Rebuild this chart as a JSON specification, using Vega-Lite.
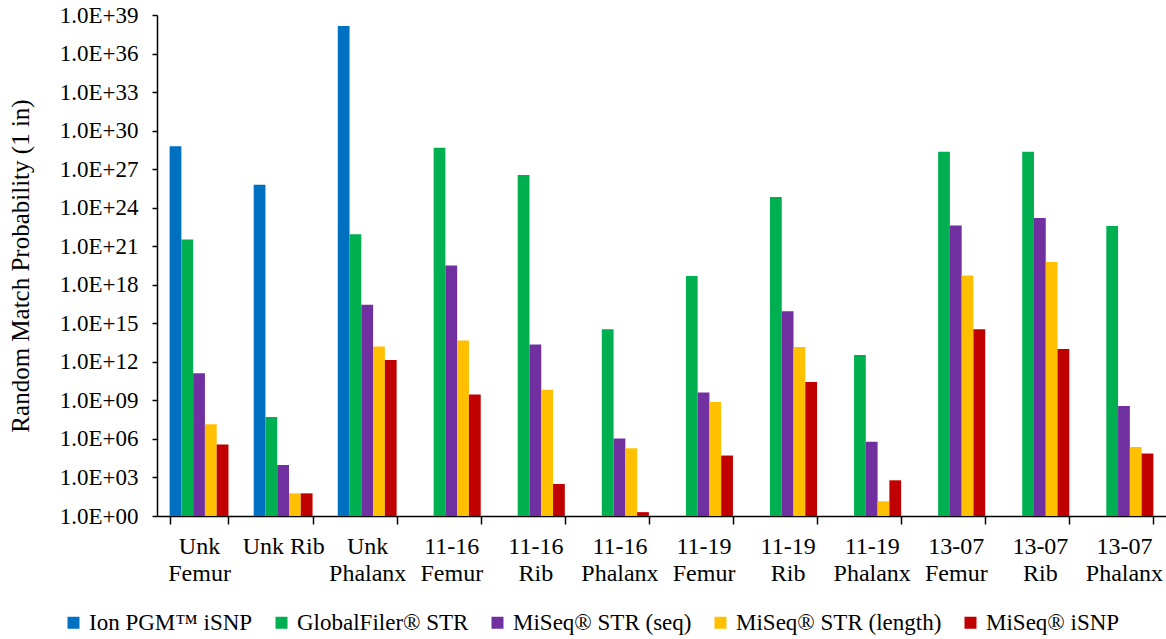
{
  "$schema": "https://vega.github.io/schema/vega-lite/v6.json",
  "width": 1009,
  "height": 501,
  "autosize": {"type": "none"},
  "padding": {"left": 157, "top": 15, "right": 0, "bottom": 123},
  "background": "white",
  "config": {
    "view": {"stroke": null},
    "font": "Liberation Serif",
    "axis": {"domainColor": "black", "tickColor": "black", "labelColor": "black", "titleColor": "black", "domainWidth": 1.5, "tickWidth": 1.5, "grid": false, "labelFont": "Liberation Serif", "titleFont": "Liberation Serif"},
    "legend": {"padding": 0, "labelFont": "Liberation Serif"}
  },
  "data": {
    "values": [
      {"sample": "Unk Femur", "method": "Ion PGM™ iSNP", "rmp": 6e28},
      {"sample": "Unk Femur", "method": "GlobalFiler® STR", "rmp": 3.3e21},
      {"sample": "Unk Femur", "method": "MiSeq® STR (seq)", "rmp": 1.3e11},
      {"sample": "Unk Femur", "method": "MiSeq® STR (length)", "rmp": 1.4e7},
      {"sample": "Unk Femur", "method": "MiSeq® iSNP", "rmp": 3.7e5},
      {"sample": "Unk Rib", "method": "Ion PGM™ iSNP", "rmp": 6e25},
      {"sample": "Unk Rib", "method": "GlobalFiler® STR", "rmp": 5e7},
      {"sample": "Unk Rib", "method": "MiSeq® STR (seq)", "rmp": 9.3e3},
      {"sample": "Unk Rib", "method": "MiSeq® STR (length)", "rmp": 58},
      {"sample": "Unk Rib", "method": "MiSeq® iSNP", "rmp": 58},
      {"sample": "Unk Phalanx", "method": "Ion PGM™ iSNP", "rmp": 1.4e38},
      {"sample": "Unk Phalanx", "method": "GlobalFiler® STR", "rmp": 8.5e21},
      {"sample": "Unk Phalanx", "method": "MiSeq® STR (seq)", "rmp": 2.8e16},
      {"sample": "Unk Phalanx", "method": "MiSeq® STR (length)", "rmp": 1.6e13},
      {"sample": "Unk Phalanx", "method": "MiSeq® iSNP", "rmp": 1.4e12},
      {"sample": "11-16 Femur", "method": "GlobalFiler® STR", "rmp": 4.6e28},
      {"sample": "11-16 Femur", "method": "MiSeq® STR (seq)", "rmp": 3.1e19},
      {"sample": "11-16 Femur", "method": "MiSeq® STR (length)", "rmp": 4.6e13},
      {"sample": "11-16 Femur", "method": "MiSeq® iSNP", "rmp": 2.9e9},
      {"sample": "11-16 Rib", "method": "GlobalFiler® STR", "rmp": 3.5e26},
      {"sample": "11-16 Rib", "method": "MiSeq® STR (seq)", "rmp": 2.2e13},
      {"sample": "11-16 Rib", "method": "MiSeq® STR (length)", "rmp": 6.7e9},
      {"sample": "11-16 Rib", "method": "MiSeq® iSNP", "rmp": 310},
      {"sample": "11-16 Phalanx", "method": "GlobalFiler® STR", "rmp": 3.4e14},
      {"sample": "11-16 Phalanx", "method": "MiSeq® STR (seq)", "rmp": 1.1e6},
      {"sample": "11-16 Phalanx", "method": "MiSeq® STR (length)", "rmp": 1.9e5},
      {"sample": "11-16 Phalanx", "method": "MiSeq® iSNP", "rmp": 2},
      {"sample": "11-19 Femur", "method": "GlobalFiler® STR", "rmp": 4.9e18},
      {"sample": "11-19 Femur", "method": "MiSeq® STR (seq)", "rmp": 4.2e9},
      {"sample": "11-19 Femur", "method": "MiSeq® STR (length)", "rmp": 7.4e8},
      {"sample": "11-19 Femur", "method": "MiSeq® iSNP", "rmp": 5.1e4},
      {"sample": "11-19 Rib", "method": "GlobalFiler® STR", "rmp": 6.8e24},
      {"sample": "11-19 Rib", "method": "MiSeq® STR (seq)", "rmp": 8.7e15},
      {"sample": "11-19 Rib", "method": "MiSeq® STR (length)", "rmp": 1.4e13},
      {"sample": "11-19 Rib", "method": "MiSeq® iSNP", "rmp": 2.7e10},
      {"sample": "11-19 Phalanx", "method": "GlobalFiler® STR", "rmp": 3.4e12},
      {"sample": "11-19 Phalanx", "method": "MiSeq® STR (seq)", "rmp": 5.9e5},
      {"sample": "11-19 Phalanx", "method": "MiSeq® STR (length)", "rmp": 14},
      {"sample": "11-19 Phalanx", "method": "MiSeq® iSNP", "rmp": 600},
      {"sample": "13-07 Femur", "method": "GlobalFiler® STR", "rmp": 2.3e28},
      {"sample": "13-07 Femur", "method": "MiSeq® STR (seq)", "rmp": 4.2e22},
      {"sample": "13-07 Femur", "method": "MiSeq® STR (length)", "rmp": 5.2e18},
      {"sample": "13-07 Femur", "method": "MiSeq® iSNP", "rmp": 3.4e14},
      {"sample": "13-07 Rib", "method": "GlobalFiler® STR", "rmp": 2.3e28},
      {"sample": "13-07 Rib", "method": "MiSeq® STR (seq)", "rmp": 1.6e23},
      {"sample": "13-07 Rib", "method": "MiSeq® STR (length)", "rmp": 5.8e19},
      {"sample": "13-07 Rib", "method": "MiSeq® iSNP", "rmp": 1e13},
      {"sample": "13-07 Phalanx", "method": "GlobalFiler® STR", "rmp": 3.7e22},
      {"sample": "13-07 Phalanx", "method": "MiSeq® STR (seq)", "rmp": 3.6e8},
      {"sample": "13-07 Phalanx", "method": "MiSeq® STR (length)", "rmp": 2.3e5},
      {"sample": "13-07 Phalanx", "method": "MiSeq® iSNP", "rmp": 7.3e4}
    ]
  },
  "mark": {"type": "bar"},
  "encoding": {
    "x": {
      "field": "sample",
      "type": "nominal",
      "sort": ["Unk Femur", "Unk Rib", "Unk Phalanx", "11-16 Femur", "11-16 Rib", "11-16 Phalanx", "11-19 Femur", "11-19 Rib", "11-19 Phalanx", "13-07 Femur", "13-07 Rib", "13-07 Phalanx"],
      "scale": {"paddingInner": 0.3, "paddingOuter": 0.15},
      "axis": {
        "title": null,
        "labelAngle": 0,
        "labelFont": "Liberation Serif",
        "labelFontSize": 24,
        "labelLineHeight": 27,
        "labelPadding": 10,
        "tickSize": 8,
        "tickBand": "extent",
        "labelExpr": "datum.label == 'Unk Rib' ? datum.label : split(datum.label, ' ')"
      }
    },
    "xOffset": {
      "field": "method",
      "type": "nominal",
      "sort": ["Ion PGM™ iSNP", "GlobalFiler® STR", "MiSeq® STR (seq)", "MiSeq® STR (length)", "MiSeq® iSNP"]
    },
    "y": {
      "field": "rmp",
      "type": "quantitative",
      "scale": {"type": "log", "domain": [1, 1e39]},
      "axis": {
        "title": "Random Match Probability (1 in)",
        "titleFont": "Liberation Serif",
        "titleFontSize": 25,
        "titleFontWeight": "normal",
        "titlePadding": 26,
        "values": [1, 1e3, 1e6, 1e9, 1e12, 1e15, 1e18, 1e21, 1e24, 1e27, 1e30, 1e33, 1e36, 1e39],
        "labelExpr": "'1.0E+' + (round(log(datum.value)/LN10) < 10 ? '0' : '') + round(log(datum.value)/LN10)",
        "labelFont": "Liberation Serif",
        "labelFontSize": 23,
        "labelPadding": 14,
        "tickSize": 5
      }
    },
    "y2": {"datum": 1},
    "color": {
      "field": "method",
      "type": "nominal",
      "sort": ["Ion PGM™ iSNP", "GlobalFiler® STR", "MiSeq® STR (seq)", "MiSeq® STR (length)", "MiSeq® iSNP"],
      "scale": {
        "domain": ["Ion PGM™ iSNP", "GlobalFiler® STR", "MiSeq® STR (seq)", "MiSeq® STR (length)", "MiSeq® iSNP"],
        "range": ["#0070C0", "#00B050", "#7030A0", "#FFC000", "#C00000"]
      },
      "legend": {
        "title": null,
        "orient": "none",
        "direction": "horizontal",
        "legendX": -95,
        "legendY": 596,
        "padding": 0,
        "symbolType": "square",
        "symbolSize": 144,
        "symbolStrokeWidth": 0,
        "labelFont": "Liberation Serif",
        "labelFontSize": 23,
        "labelColor": "black",
        "labelOffset": 4,
        "columnPadding": 17,
        "labelLimit": 400
      }
    }
  }
}
